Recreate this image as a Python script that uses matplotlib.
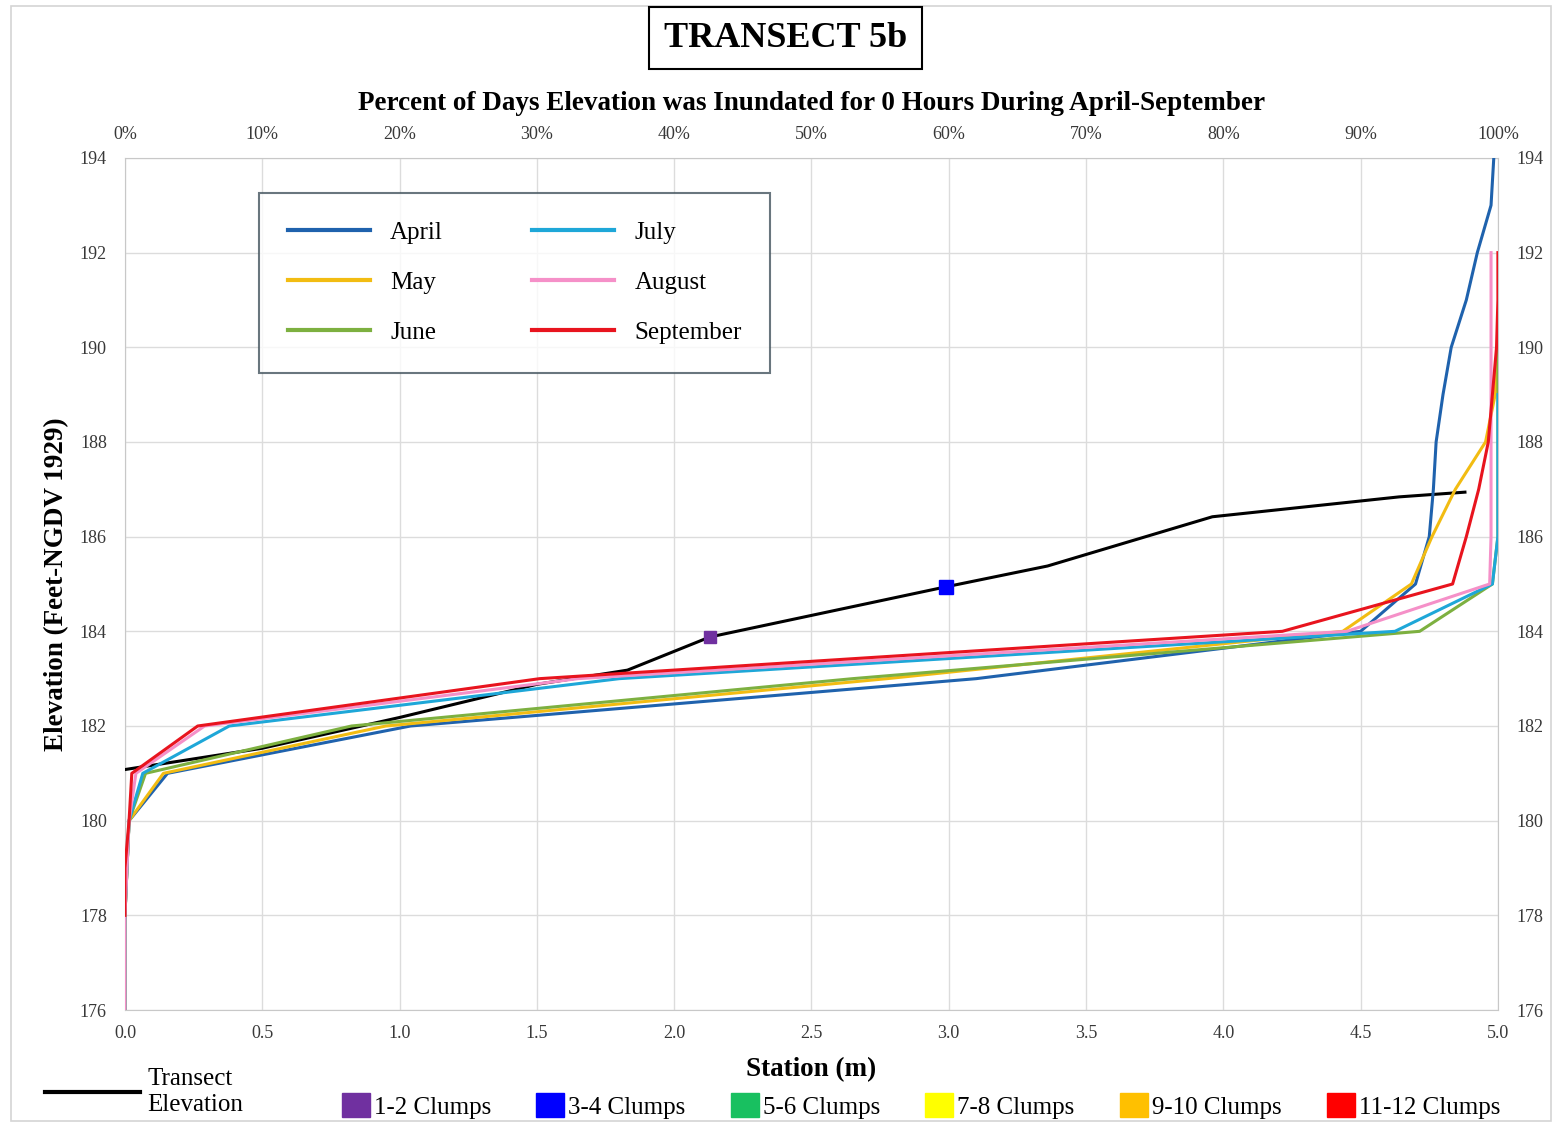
import matplotlib
matplotlib.use("Agg")
import matplotlib.pyplot as plt
from matplotlib.lines import Line2D
from matplotlib.patches import Patch, Rectangle

# ---- data -------------------------------------------------------------
# Ground profile along the transect
transect_station = [0.0, 0.5, 1.0, 1.5, 1.83, 2.13, 2.99, 3.36, 3.96, 4.64, 4.88]
transect_elev = [181.08, 181.53, 182.18, 182.88, 183.18, 183.88, 184.94, 185.38, 186.42, 186.84, 186.94]

# Vegetation clumps observed on the transect
clump_station = [2.13, 2.99]
clump_elev = [183.88, 184.94]
clump_class = ["1-2 Clumps", "3-4 Clumps"]

# Percent of days each elevation was inundated for 0 hours, by month
april_elev = [176, 178, 180, 181, 182, 183, 184, 185, 186, 187, 188, 189, 190, 191, 192, 193, 194]
april_pct = [0, 0, 0.3, 3.1, 20.8, 62.0, 90.0, 94.0, 95.0, 95.3, 95.5, 96.0, 96.6, 97.7, 98.5, 99.5, 99.7]

may_elev = [176, 178, 180, 181, 182, 183, 184, 185, 186, 187, 188, 189, 190]
may_pct = [0, 0, 0.3, 2.8, 19.0, 55.5, 88.7, 93.7, 95.2, 96.9, 99.1, 99.8, 100]

june_elev = [176, 178, 180, 181, 182, 183, 184, 185, 186, 188, 190]
june_pct = [0, 0, 0.3, 1.5, 16.5, 53.0, 94.3, 99.6, 100, 100, 100]

july_elev = [176, 178, 180, 181, 182, 183, 184, 185, 186, 188, 189]
july_pct = [0, 0, 0.3, 1.3, 7.6, 36.0, 92.5, 99.6, 100, 100, 100]

august_elev = [176, 178, 180, 181, 182, 183, 184, 185, 186, 188, 190, 192]
august_pct = [0, 0, 0.3, 0.8, 5.8, 33.0, 89.0, 99.4, 99.5, 99.5, 99.5, 99.5]

september_elev = [178, 179, 180, 181, 182, 183, 184, 185, 186, 187, 188, 189, 190, 191, 192]
september_pct = [0, 0, 0.3, 0.5, 5.3, 30.2, 84.3, 96.7, 97.7, 98.6, 99.3, 99.6, 99.9, 100, 100]

months = ["April", "May", "June", "July", "August", "September"]
month_elev = [april_elev, may_elev, june_elev, july_elev, august_elev, september_elev]
month_pct = [april_pct, may_pct, june_pct, july_pct, august_pct, september_pct]
month_colors = ["#1f62ad", "#f2bc12", "#7db040", "#1ea7d8", "#f590c8", "#e8141e"]

clump_legend = ["1-2 Clumps", "3-4 Clumps", "5-6 Clumps", "7-8 Clumps", "9-10 Clumps", "11-12 Clumps"]
clump_colors = ["#7030a0", "#0000ff", "#18c060", "#ffff00", "#ffc000", "#ff0000"]

station_ticks = [0.0, 0.5, 1.0, 1.5, 2.0, 2.5, 3.0, 3.5, 4.0, 4.5, 5.0]
pct_ticks = [0, 10, 20, 30, 40, 50, 60, 70, 80, 90, 100]
elev_ticks = [176, 178, 180, 182, 184, 186, 188, 190, 192, 194]

# ---- figure -----------------------------------------------------------
plt.rcParams["font.family"] = ["Liberation Serif", "DejaVu Serif"]
TICK_COLOR = "#383838"
fig = plt.figure(figsize=(15.54, 11.25), dpi=100)
fig.patch.set_facecolor("white")
fig.add_artist(Rectangle((0.007, 0.004), 0.991, 0.991, transform=fig.transFigure,
                         fill=False, edgecolor="#d4d4d4", linewidth=1.2))

ax = fig.add_axes([0.0804, 0.1022, 0.8835, 0.7574])
ax.set_xlim(0, 5)
ax.set_ylim(176, 194)
ax.set_xticks(station_ticks)
ax.set_xticklabels([f"{s:.1f}" for s in station_ticks])
ax.set_yticks(elev_ticks)
ax.grid(True, color="#dcdcdc", linewidth=1.0)
ax.set_axisbelow(True)
for sp in ax.spines.values():
    sp.set_color("#c8c8c8")
ax.tick_params(axis="both", length=0, labelsize=13, colors=TICK_COLOR)
ax.tick_params(axis="x", pad=11)
ax.tick_params(axis="y", pad=13, labelright=True, right=True)

ax.set_xlabel("Station (m)", fontsize=19.5, fontweight="bold", labelpad=11)
ax.set_ylabel("Elevation (Feet-NGDV 1929)", fontsize=19.5, fontweight="bold", labelpad=8)

# transect ground line and clump markers
ax.plot(transect_station, transect_elev, color="black", linewidth=2.2, zorder=3)
for s, e, c in zip(clump_station, clump_elev, clump_class):
    col = clump_colors[clump_legend.index(c)]
    ms = 8 if c == "1-2 Clumps" else 9.5
    ax.plot([s], [e], marker="s", markersize=ms, color=col, linestyle="none", zorder=6)

# percent axis on top
ax2 = ax.twiny()
ax2.set_xlim(0, 100)
ax2.set_xticks(pct_ticks)
ax2.set_xticklabels([f"{p}%" for p in pct_ticks])
ax2.tick_params(axis="x", length=0, labelsize=13, colors=TICK_COLOR, pad=11)
for sp in ax2.spines.values():
    sp.set_visible(False)
ax2.set_xlabel("Percent of Days Elevation was Inundated for 0 Hours During April-September",
               fontsize=19.5, fontweight="bold", labelpad=11)

month_handles = []
for name, el, pc, col in zip(months, month_elev, month_pct, month_colors):
    ln, = ax2.plot(pc, el, color=col, linewidth=2.2, label=name, zorder=4)
    month_handles.append(ln)

leg = ax2.legend(handles=month_handles, ncol=2, loc="upper left",
                 bbox_to_anchor=(0.0976, 0.959), borderaxespad=0, fontsize=18,
                 frameon=True, fancybox=False, handlelength=3.3, handletextpad=0.8,
                 columnspacing=3.55, labelspacing=1.1, borderpad=1.15)
leg.get_frame().set_edgecolor("#44545e")
leg.get_frame().set_linewidth(1.5)
for h in leg.get_lines():
    h.set_linewidth(3)

# chart title in a box
fig.text(0.5055, 0.966, "TRANSECT 5b", ha="center", va="center", fontsize=26,
         fontweight="bold",
         bbox=dict(boxstyle="square,pad=0.4", facecolor="white", edgecolor="black", linewidth=1.5))

# legends below the plot
fig.legend(handles=[Line2D([0], [0], color="black", linewidth=3)],
           labels=["Transect\nElevation"], loc="center left",
           bbox_to_anchor=(0.029, 0.0293), borderaxespad=0, borderpad=0,
           frameon=False, fontsize=18, handlelength=3.8, handletextpad=0.28)

fig.legend(handles=[Patch(facecolor=c, edgecolor=c) for c in clump_colors],
           labels=clump_legend, loc="center left", ncol=6,
           bbox_to_anchor=(0.22, 0.0169), borderaxespad=0, borderpad=0,
           frameon=False, fontsize=18, handlelength=1.12, handleheight=1.12,
           handletextpad=0.15, columnspacing=1.82)

fig.savefig("out.png", dpi=100, facecolor="white")
